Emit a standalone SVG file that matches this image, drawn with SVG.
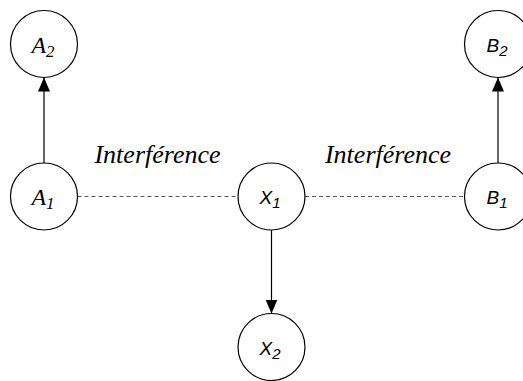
<svg xmlns="http://www.w3.org/2000/svg" width="523" height="381" viewBox="0 0 523 381">
  <style>
    .node { fill: #ffffff; stroke: #000000; stroke-width: 1.2; }
    .edge { stroke: #000000; stroke-width: 1.2; fill: none; }
    .interf { stroke: #555555; stroke-width: 1.2; stroke-dasharray: 4 3; fill: none; }
    .rm { font-family: 'Times New Roman', 'Liberation Serif', 'DejaVu Serif', serif; font-style: italic; }
    .sf { font-family: Arial, 'Liberation Sans', sans-serif; font-style: italic; }
  </style>
  <defs>
    <marker id="arrow" viewBox="0 0 14 12" refX="14" refY="6" markerWidth="14" markerHeight="12" markerUnits="userSpaceOnUse" orient="auto">
      <path d="M0,0 L14,6 L0,12 Z" fill="#000"/>
    </marker>
  </defs>

  <rect width="523" height="381" fill="#ffffff"/>

  <g id="connectors">
    <line class="edge" x1="44" y1="163" x2="44" y2="77.5" marker-end="url(#arrow)"/>
    <line class="edge" x1="498" y1="163" x2="498" y2="77.5" marker-end="url(#arrow)"/>
    <line class="edge" x1="271.5" y1="230" x2="271.5" y2="313.5" marker-end="url(#arrow)"/>
    <line class="interf" x1="77.5" y1="196.5" x2="238" y2="196.5"/>
    <line class="interf" x1="305" y1="196.5" x2="464.5" y2="196.5"/>
    <text class="rm" x="157.5" y="163" font-size="26" text-anchor="middle">Interférence</text>
    <text class="rm" x="388" y="163" font-size="26" text-anchor="middle">Interférence</text>
  </g>

  <g id="A2">
    <circle class="node" cx="44" cy="44" r="33.5"/>
    <text class="rm" x="43" y="53" font-size="24" text-anchor="middle">A<tspan font-size="17" dy="4">2</tspan></text>
  </g>
  <g id="A1">
    <circle class="node" cx="44" cy="196.5" r="33.5"/>
    <text class="rm" x="43" y="205" font-size="24" text-anchor="middle">A<tspan font-size="17" dy="4">1</tspan></text>
  </g>
  <g id="X1">
    <circle class="node" cx="271.5" cy="196.5" r="33.5"/>
    <text class="sf" x="270" y="204" font-size="19" text-anchor="middle">X<tspan font-size="15" dy="4">1</tspan></text>
  </g>
  <g id="X2">
    <circle class="node" cx="271.5" cy="347" r="33.5"/>
    <text class="sf" x="270" y="355" font-size="19" text-anchor="middle">X<tspan font-size="15" dy="4">2</tspan></text>
  </g>
  <g id="B1">
    <circle class="node" cx="498" cy="196.5" r="33.5"/>
    <text class="sf" x="497" y="204" font-size="19" text-anchor="middle">B<tspan font-size="15" dy="4">1</tspan></text>
  </g>
  <g id="B2">
    <circle class="node" cx="498" cy="44" r="33.5"/>
    <text class="sf" x="497" y="52" font-size="19" text-anchor="middle">B<tspan font-size="15" dy="4">2</tspan></text>
  </g>
</svg>
